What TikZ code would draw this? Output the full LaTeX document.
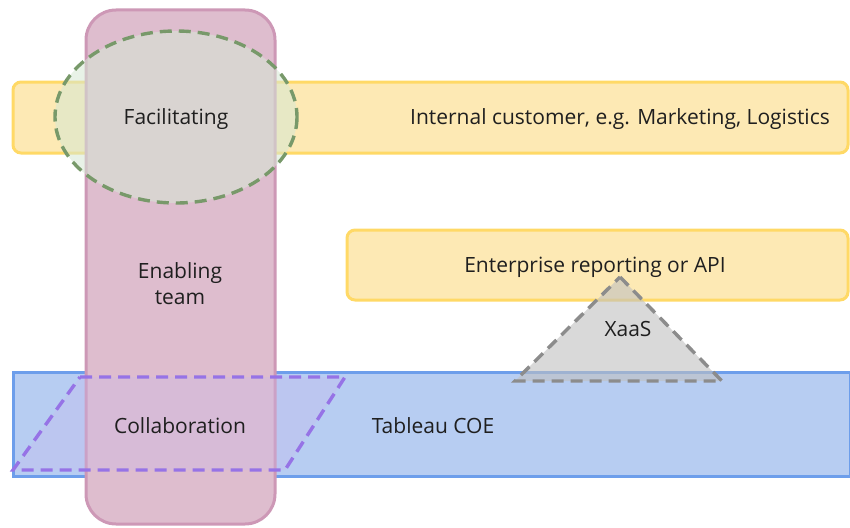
\documentclass[tikz,border=0pt]{standalone}
\usepackage{fontspec}
\setmainfont{Open Sans}
\usetikzlibrary{positioning}

\definecolor{bandfill}{HTML}{FDE9B4}
\definecolor{banddraw}{HTML}{FFD966}
\definecolor{teamfill}{HTML}{DEBDCE}
\definecolor{teamdraw}{HTML}{CD98B6}
\definecolor{facdraw}{HTML}{78996A}
\definecolor{facfill}{HTML}{D5E8D4}
\definecolor{coefill}{HTML}{B7CDF2}
\definecolor{coedraw}{HTML}{6D9EEB}
\definecolor{collabdraw}{HTML}{9673E6}
\definecolor{collabfill}{HTML}{C9B8EE}
\definecolor{xaasdraw}{HTML}{8C8C8C}
\definecolor{xaasfill}{HTML}{C0C0C0}

\tikzset{
  band/.style={draw=banddraw, fill=bandfill, line width=3pt, rounded corners=8pt},
  coeband/.style={draw=coedraw, fill=coefill, line width=3pt},
  team/.style={draw=teamdraw, fill=teamfill, line width=3pt, rounded corners=30pt},
  overlay dash/.style={line width=3.4pt, dash pattern=on 12pt off 7pt},
  label/.style={font=\fontsize{21}{26}\selectfont, text=black!88, align=center, inner sep=0pt}
}

\begin{document}
\begin{tikzpicture}[x=1pt, y=-1pt]
  \useasboundingbox (0, 0) rectangle (850, 527);

  % bands
  \draw [band] (13, 82) rectangle (848, 153);
  \draw [band] (347, 230) rectangle (848, 300);
  \draw [coeband] (13, 372) rectangle (850, 476);

  % enabling team
  \draw [team] (86, 10) rectangle (275, 524);

  % facilitating
  \draw [overlay dash, draw=facdraw, fill=facfill, fill opacity=0.55]
    (176, 117) ellipse [x radius=121, y radius=86];

  % collaboration
  \draw [overlay dash, draw=collabdraw, fill=collabfill, fill opacity=0.3]
    (80, 377) -- (345, 377) -- (285, 470) -- (13, 470) -- cycle;

  % xaas
  \draw [overlay dash, draw=xaasdraw, fill=xaasfill, fill opacity=0.6]
    (620, 277) -- (722, 381) -- (515, 381) -- cycle;

  \node [label] (facilitating) at (176, 119) {Facilitating};
  \node [label] (customer) at (620, 119) {Internal customer, e.g. Marketing, Logistics};
  \node [label] (enabling) at (180, 284) {Enabling\\team};
  \node [label] (enterprise) at (595, 267) {Enterprise reporting or API};
  \node [label] (xaas) at (628, 329) {XaaS};
  \node [label] (collaboration) at (180, 426) {Collaboration};
  \node [label] (coe) at (433, 426) {Tableau COE};
\end{tikzpicture}
\end{document}
